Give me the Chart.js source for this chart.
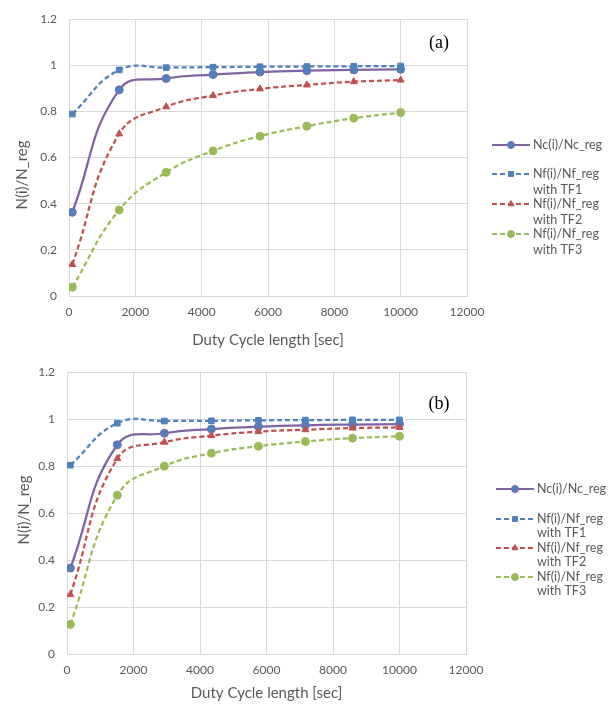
<!DOCTYPE html>
<html lang="en">
<head>
    <meta charset="UTF-8">
    <title>N(i)/N_reg vs Duty Cycle length</title>
    <script src="https://cdn.jsdelivr.net/npm/chart.js"></script>
    <style>
        body {
            margin: 0;
            background: #ffffff;
            width: 613px;
            height: 706px;
            overflow: hidden;
        }
        .panel {
            position: absolute;
            left: 0;
            width: 613px;
            height: 353px;
        }
        #panelA { top: 0; }
        #panelB { top: 353px; }
    </style>
</head>
<body>

    <div class="panel" id="panelA"><canvas id="chartA" width="613" height="353"></canvas></div>
    <div class="panel" id="panelB"><canvas id="chartB" width="613" height="353"></canvas></div>

    <script>
        // duty cycle lengths [sec]
        const cycleLengths = [100, 1514, 2929, 4343, 5757, 7171, 8586, 10000];

        // panel (a)
        const ncA  = [0.363, 0.894, 0.943, 0.960, 0.971, 0.977, 0.980, 0.983];
        const tf1A = [0.789, 0.980, 0.990, 0.992, 0.994, 0.995, 0.996, 0.997];
        const tf2A = [0.137, 0.703, 0.820, 0.869, 0.898, 0.915, 0.929, 0.936];
        const tf3A = [0.038, 0.373, 0.536, 0.629, 0.693, 0.736, 0.771, 0.795];

        // panel (b)
        const ncB  = [0.366, 0.891, 0.940, 0.958, 0.968, 0.974, 0.977, 0.979];
        const tf1B = [0.804, 0.983, 0.992, 0.993, 0.995, 0.996, 0.997, 0.997];
        const tf2B = [0.253, 0.832, 0.902, 0.930, 0.947, 0.955, 0.962, 0.965];
        const tf3B = [0.126, 0.676, 0.800, 0.855, 0.885, 0.905, 0.919, 0.927];

        const seriesNames = ['Nc(i)/Nc_reg', 'Nf(i)/Nf_reg\nwith TF1', 'Nf(i)/Nf_reg\nwith TF2', 'Nf(i)/Nf_reg\nwith TF3'];
        const xTitle = 'Duty Cycle length [sec]';
        const yTitle = 'N(i)/N_reg';

        const FONT = 'Lato, "Open Sans", sans-serif';
        const GREY = '#595959';

        const styles = [
            { line: '#8064A2', fill: '#4F81BD', edge: '#7A6AB0', shape: 'circle', dash: [], r: 4 },
            { line: '#4F81BD', fill: '#4F81BD', edge: '#4F81BD', shape: 'rect', dash: [5, 3], r: 4 },
            { line: '#C0504D', fill: '#C0504D', edge: '#C0504D', shape: 'triangle', dash: [5, 3], r: 4 },
            { line: '#9BBB59', fill: '#9BBB59', edge: '#9BBB59', shape: 'circle', dash: [5, 3], r: 4 }
        ];

        function toPoints(values) {
            return values.map((v, i) => ({ x: cycleLengths[i], y: v }));
        }

        // legend, y-title and panel tag drawn onto the canvas
        const extrasPlugin = {
            id: 'extras',
            afterDraw(chart, args, opts) {
                const ctx = chart.ctx;
                ctx.save();

                // y axis title
                ctx.fillStyle = GREY;
                ctx.font = '15px ' + FONT;
                ctx.textAlign = 'center';
                ctx.textBaseline = 'middle';
                ctx.translate(opts.yTitleX, opts.yTitleY);
                ctx.rotate(-Math.PI / 2);
                ctx.fillText(yTitle, 0, 0);
                ctx.setTransform(1, 0, 0, 1, 0, 0);

                // panel tag
                ctx.fillStyle = '#000000';
                ctx.font = '18px "Liberation Serif", "DejaVu Serif", serif';
                ctx.fillText(opts.tag, opts.tagX, opts.tagY);

                // legend
                ctx.font = '12.5px ' + FONT;
                ctx.textAlign = 'left';
                seriesNames.forEach((name, i) => {
                    const st = styles[i];
                    const y = opts.legendRows[i];
                    ctx.strokeStyle = st.line;
                    ctx.lineWidth = 2;
                    ctx.setLineDash(st.dash);
                    ctx.beginPath();
                    ctx.moveTo(opts.legendX, y);
                    ctx.lineTo(opts.legendX + 38, y);
                    ctx.stroke();
                    ctx.setLineDash([]);
                    ctx.fillStyle = st.fill;
                    ctx.strokeStyle = st.edge;
                    ctx.lineWidth = 1;
                    Chart.helpers.drawPoint(ctx, {
                        pointStyle: st.shape, radius: 3.5, rotation: 0, borderWidth: 1
                    }, opts.legendX + 19, y);

                    ctx.fillStyle = GREY;
                    name.split('\n').forEach((line, k) => {
                        ctx.fillText(line, opts.legendX + 41, y + k * opts.legendGap);
                    });
                });
                ctx.restore();
            }
        };

        function makeChart(canvasId, data, frame) {
            const datasets = data.map((values, i) => ({
                label: seriesNames[i].replace('\n', ' '),
                data: toPoints(values),
                showLine: true,
                tension: 0.45,
                borderColor: styles[i].line,
                borderWidth: 2.25,
                borderDash: styles[i].dash,
                pointStyle: styles[i].shape,
                pointRadius: styles[i].r,
                pointBackgroundColor: styles[i].fill,
                pointBorderColor: styles[i].edge,
                pointBorderWidth: 1
            }));
            // draw purple line on top of the others like the original
            const ordered = [datasets[3], datasets[2], datasets[1], datasets[0]];

            return new Chart(document.getElementById(canvasId), {
                type: 'scatter',
                data: { datasets: ordered },
                options: {
                    responsive: false,
                    animation: false,
                    devicePixelRatio: 1,
                    layout: {
                        padding: { left: 0, right: 613 - frame.right, top: frame.top, bottom: 0 }
                    },
                    plugins: {
                        legend: { display: false },
                        tooltip: { enabled: false },
                        extras: frame.extras
                    },
                    scales: {
                        x: {
                            type: 'linear',
                            min: 0,
                            max: 12000,
                            afterFit: s => { s.height = 353 - frame.bottom; },
                            ticks: {
                                stepSize: 2000,
                                color: GREY,
                                font: { family: FONT, size: 12 },
                                padding: 9,
                                maxRotation: 0,
                                callback: v => String(v)
                            },
                            grid: { color: '#D9D9D9', drawTicks: false },
                            border: { color: '#D9D9D9' },
                            title: {
                                display: true,
                                text: xTitle,
                                color: GREY,
                                font: { family: FONT, size: 15 },
                                padding: { top: 6 }
                            }
                        },
                        y: {
                            type: 'linear',
                            min: 0,
                            max: 1.2,
                            afterFit: s => { s.width = frame.left; },
                            ticks: {
                                stepSize: 0.2,
                                color: GREY,
                                font: { family: FONT, size: 12 },
                                padding: 12,
                                callback: v => String(Math.round(v * 10) / 10)
                            },
                            grid: { color: '#D9D9D9', drawTicks: false },
                            border: { color: '#D9D9D9' }
                        }
                    }
                },
                plugins: [extrasPlugin]
            });
        }

        makeChart('chartA', [ncA, tf1A, tf2A, tf3A], {
            left: 69, right: 467, top: 9, bottom: 296,
            extras: {
                tag: '(a)', tagX: 439, tagY: 43,
                yTitleX: 22, yTitleY: 175,
                legendX: 492, legendGap: 16,
                legendRows: [145, 174, 204, 234]
            }
        });

        makeChart('chartB', [ncB, tf1B, tf2B, tf3B], {
            left: 67, right: 466, top: 15, bottom: 301,
            extras: {
                tag: '(b)', tagX: 439, tagY: 51,
                yTitleX: 24, yTitleY: 157,
                legendX: 496, legendGap: 14,
                legendRows: [136, 166, 195, 224]
            }
        });
    </script>

</body>
</html>
